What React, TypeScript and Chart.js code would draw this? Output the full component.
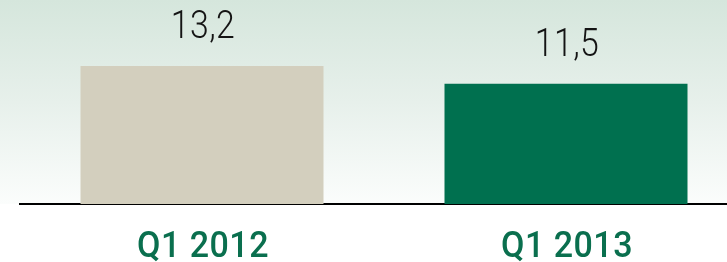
import { useEffect, useRef } from "react";
import { Chart, registerables } from "chart.js";

Chart.register(...registerables);

const categories = ["Q1 2012", "Q1 2013"];
const values = [13.2, 11.5];
const barColors = ["#d3cfbe", "#00704f"];
const yMax = 19.5;

const FONT = "Roboto, 'Liberation Sans', sans-serif";

function drawSqueezed(ctx: CanvasRenderingContext2D, text: string, x: number, y: number, sx: number) {
  ctx.save();
  ctx.translate(x, y);
  ctx.scale(sx, 1);
  ctx.textAlign = "center";
  ctx.textBaseline = "alphabetic";
  ctx.fillText(text, 0, 0);
  ctx.restore();
}

export default function App() {
  const ref = useRef<HTMLCanvasElement>(null);

  useEffect(() => {
    document.body.style.margin = "0";
    const canvas = ref.current!;

    const bg = {
      id: "bg",
      beforeDraw(chart: any) {
        const { ctx, width, height } = chart;
        const bottom = chart.chartArea.bottom;
        const g = ctx.createLinearGradient(0, 0, 0, bottom);
        g.addColorStop(0, "#d5e6dc");
        g.addColorStop(0.5, "#e7f0eb");
        g.addColorStop(1, "#fbfdfc");
        ctx.save();
        ctx.fillStyle = "#ffffff";
        ctx.fillRect(0, 0, width, height);
        ctx.fillStyle = g;
        ctx.fillRect(0, 0, width, bottom);
        ctx.restore();
      },
    };

    const labels = {
      id: "labels",
      afterDraw(chart: any) {
        const meta = chart.getDatasetMeta(0);
        const xScale = chart.scales.x;
        const ctx = chart.ctx;
        ctx.save();
        // value labels above bars
        ctx.font = `300 38px ${FONT}`;
        ctx.letterSpacing = "0.5px";
        ctx.fillStyle = "#141414";
        meta.data.forEach((el: any, i: number) => {
          drawSqueezed(ctx, values[i].toFixed(1).replace(".", ","), el.x + 1, el.y - 28, 0.89);
        });
        // category labels below axis
        ctx.font = `500 37px ${FONT}`;
        ctx.letterSpacing = "0.5px";
        ctx.fillStyle = "#0a6f4e";
        categories.forEach((c, i) => {
          drawSqueezed(ctx, c, xScale.getPixelForValue(i) + 1, chart.chartArea.bottom + 53, 0.92);
        });
        ctx.restore();
      },
    };

    const chart = new Chart(canvas, {
      type: "bar",
      data: {
        labels: categories,
        datasets: [
          {
            data: values,
            backgroundColor: barColors,
            borderWidth: 0,
            barPercentage: 1,
            categoryPercentage: 243 / 364,
          },
        ],
      },
      options: {
        responsive: false,
        animation: false,
        devicePixelRatio: 1,
        layout: { padding: { left: 20, right: 0, top: 0, bottom: 58 } },
        plugins: {
          legend: { display: false },
          tooltip: { enabled: false },
        },
        scales: {
          x: {
            grid: { display: false, drawTicks: false },
            border: { display: true, color: "#000000", width: 2 },
            ticks: { display: false },
          },
          y: {
            display: false,
            min: 0,
            max: yMax,
          },
        },
      },
      plugins: [bg, labels],
    });

    return () => chart.destroy();
  }, []);

  return (
    <div style={{ width: 727, height: 262, overflow: "hidden", position: "relative" }}>
      <canvas ref={ref} width={748} height={262} style={{ display: "block" }} />
    </div>
  );
}
